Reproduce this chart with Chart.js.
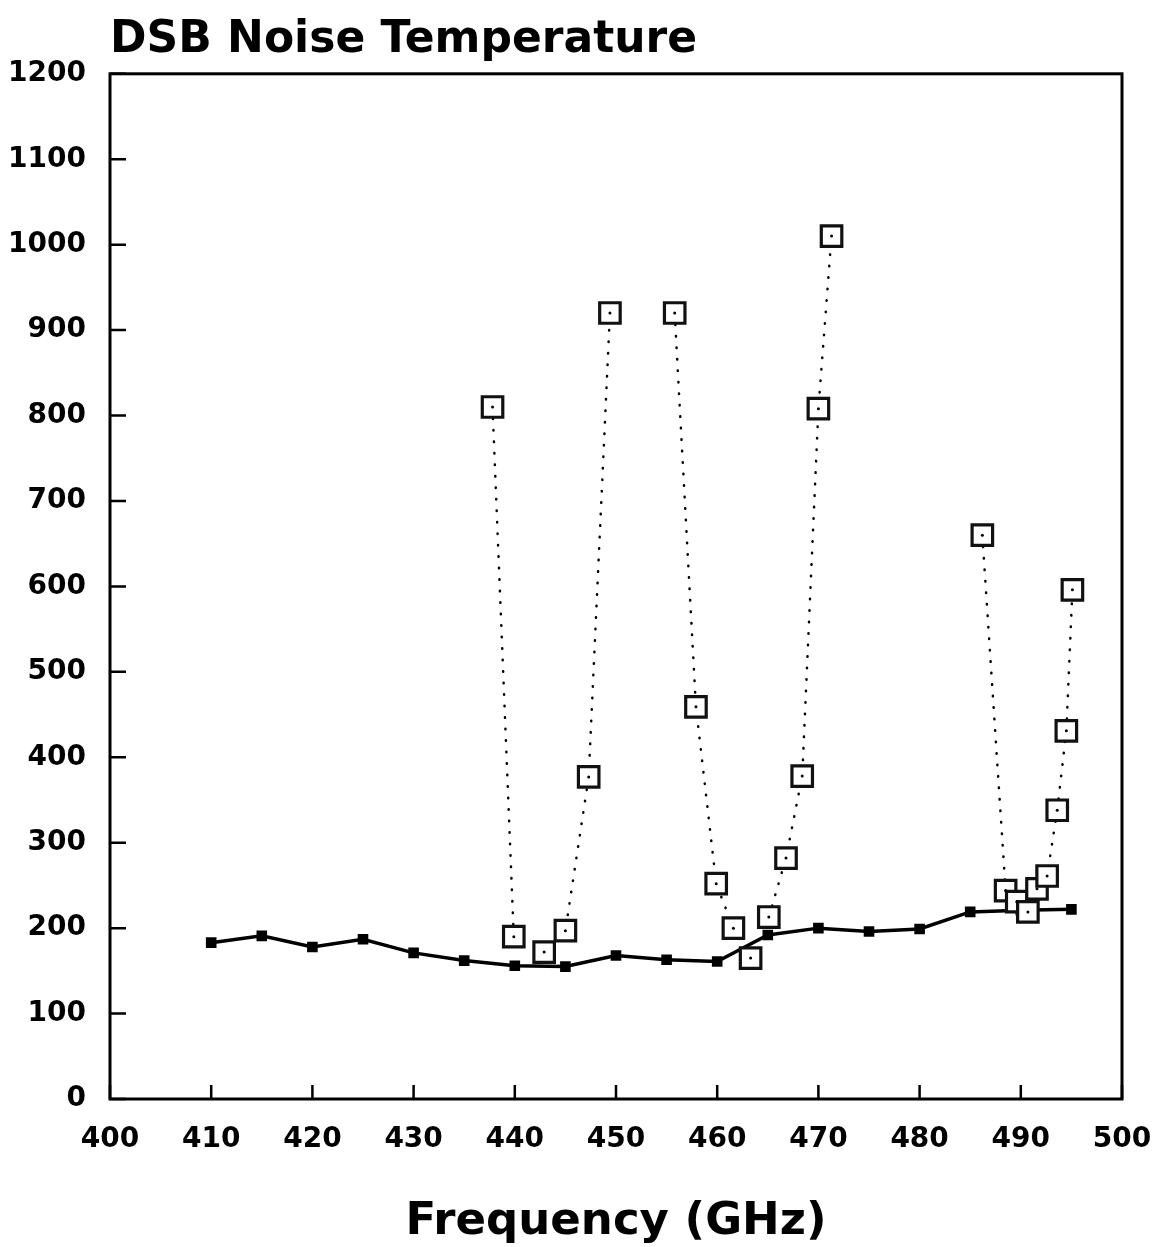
<!DOCTYPE html>
<html>
<head>
<meta charset="utf-8">
<title>DSB Noise Temperature</title>
<script src="https://cdn.jsdelivr.net/npm/chart.js@4.4.1/dist/chart.umd.min.js"></script>
<style>
  body { margin: 0; background: #fff; }
</style>
</head>
<body>
<canvas id="myChart" width="1163" height="1247"></canvas>
<script>
// solid curve, filled markers every 5 GHz
const solidFreq = [410, 415, 420, 425, 430, 435, 440, 445, 450, 455, 460, 465, 470, 475, 480, 485, 490, 495];
const solidTemp = [183, 191, 178, 187, 171, 162, 156, 155, 168, 163, 161, 192, 200, 196, 199, 219, 221, 222];

// dotted sweeps, open square markers
const sweep1Freq = [437.8, 439.9];
const sweep1Temp = [810, 190];
const sweep2Freq = [442.9, 445.0, 447.3, 449.4];
const sweep2Temp = [172, 197, 377, 920];
const sweep3Freq = [455.8, 457.9, 459.9, 461.6];
const sweep3Temp = [920, 459, 252, 200];
const sweep4Freq = [463.3];
const sweep4Temp = [165];
const sweep5Freq = [465.1, 466.8, 468.4, 470.0, 471.3];
const sweep5Temp = [213, 282, 378, 808, 1010];
const sweep6Freq = [486.2, 488.5, 489.6, 490.7, 491.6, 492.6, 493.6, 494.5, 495.1];
const sweep6Temp = [660, 244, 231, 219, 246, 261, 338, 431, 596];

const xTicks = [400, 410, 420, 430, 440, 450, 460, 470, 480, 490, 500];
const yTicks = [0, 100, 200, 300, 400, 500, 600, 700, 800, 900, 1000, 1100, 1200];

function pts(xs, ys) {
    return xs.map((v, i) => ({ x: v, y: ys[i] }));
}

const sweeps = [
    [sweep1Freq, sweep1Temp],
    [sweep2Freq, sweep2Temp],
    [sweep3Freq, sweep3Temp],
    [sweep4Freq, sweep4Temp],
    [sweep5Freq, sweep5Temp],
    [sweep6Freq, sweep6Temp]
];

const datasets = [];

// open squares with dotted joins
sweeps.forEach(s => {
    datasets.push({
        data: pts(s[0], s[1]),
        showLine: true,
        borderColor: '#000',
        borderWidth: 2.5,
        borderDash: [0.5, 11],
        borderCapStyle: 'round',
        pointStyle: 'rect',
        pointRadius: 14.5,
        pointBorderWidth: 3.2,
        pointBorderColor: '#111',
        pointBackgroundColor: '#fff',
        order: 2
    });
    // the little dot in the middle of each square
    datasets.push({
        data: pts(s[0], s[1]),
        showLine: false,
        pointStyle: 'circle',
        pointRadius: 1.5,
        pointBorderWidth: 0,
        pointBackgroundColor: '#000',
        order: 1
    });
});

// solid curve
datasets.push({
    data: pts(solidFreq, solidTemp),
    showLine: true,
    borderColor: '#000',
    borderWidth: 3.5,
    pointStyle: 'rect',
    pointRadius: 7.5,
    pointBorderWidth: 0,
    pointBackgroundColor: '#000',
    order: 3
});

// frame and inward tick marks
const frameTicks = {
    id: 'frameTicks',
    beforeDatasetsDraw(chart) {
        const { ctx, chartArea: a, scales: { x, y } } = chart;
        ctx.save();
        ctx.strokeStyle = '#000';
        ctx.lineWidth = 2.5;
        ctx.beginPath();
        x.ticks.forEach(t => {
            const px = x.getPixelForValue(t.value);
            ctx.moveTo(px, a.bottom);
            ctx.lineTo(px, a.bottom - 14);
        });
        y.ticks.forEach(t => {
            const py = y.getPixelForValue(t.value);
            ctx.moveTo(a.left, py);
            ctx.lineTo(a.left + 16, py);
        });
        ctx.stroke();
        ctx.lineWidth = 3;
        ctx.strokeRect(a.left, a.top, a.right - a.left, a.bottom - a.top);
        ctx.restore();
    }
};

const tickFont = { family: 'DejaVu Sans', weight: 'bold', size: 28 };

const ctx = document.getElementById('myChart').getContext('2d');
const myChart = new Chart(ctx, {
    type: 'scatter',
    data: { datasets: datasets },
    options: {
        responsive: false,
        animation: false,
        layout: { padding: { left: 0, right: 41, top: 0, bottom: 0 } },
        plugins: {
            legend: { display: false },
            tooltip: { enabled: false },
            title: {
                display: true,
                text: 'DSB Noise Temperature',
                align: 'start',
                fullSize: false,
                color: '#000',
                font: { family: 'DejaVu Sans', weight: 'bold', size: 44, lineHeight: 1.2 },
                padding: { top: 14, bottom: 7 }
            }
        },
        scales: {
            x: {
                type: 'linear',
                min: 400,
                max: 500,
                afterBuildTicks: s => { s.ticks = xTicks.map(v => ({ value: v })); },
                afterFit: s => { s.height = 148; s.paddingRight = 0; s.paddingLeft = 0; },
                grid: { display: false, drawTicks: false },
                border: { display: false },
                ticks: { color: '#000', font: tickFont, padding: 24, maxRotation: 0, callback: v => String(v) },
                title: {
                    display: true,
                    text: 'Frequency (GHz)',
                    color: '#000',
                    font: { family: 'DejaVu Sans', weight: 'bold', size: 45, lineHeight: 1.1 },
                    padding: { top: 0, bottom: 0 }
                }
            },
            y: {
                type: 'linear',
                min: 0,
                max: 1200,
                afterBuildTicks: s => { s.ticks = yTicks.map(v => ({ value: v })); },
                afterFit: s => { s.width = 110; },
                grid: { display: false, drawTicks: false },
                border: { display: false },
                ticks: { color: '#000', font: tickFont, padding: 24, callback: v => String(v) }
            }
        }
    },
    plugins: [frameTicks]
});
</script>
</body>
</html>
